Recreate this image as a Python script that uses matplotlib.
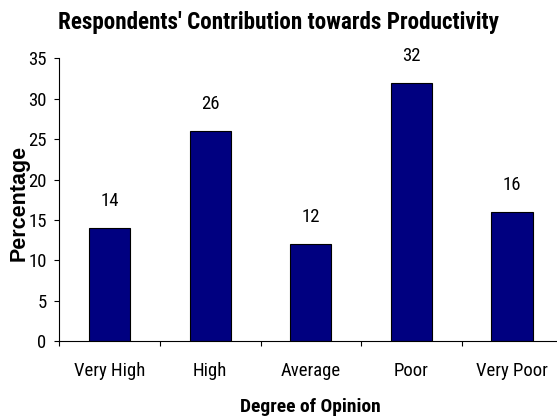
import matplotlib
matplotlib.use("Agg")
import matplotlib.pyplot as plt
import numpy as np

categories = ["Very High", "High", "Average", "Poor", "Very Poor"]
percentages = [14, 26, 12, 32, 16]
y_ticks = [0, 5, 10, 15, 20, 25, 30, 35]

narrow = ["Roboto Condensed", "PT Sans Narrow", "DejaVu Sans"]
plt.rcParams['font.family'] = narrow

fig = plt.figure(figsize=(5.57, 4.2), dpi=100)
ax = fig.add_axes([0.1065, 0.1874, 0.9031, 0.6738])

x = np.arange(len(categories))
bars = ax.bar(x, percentages, width=0.41, color="#000080",
              edgecolor="black", linewidth=0.8)

for xi, val in zip(x, percentages):
    ax.annotate(str(val), (xi, val), xytext=(0, 27), textcoords="offset pixels",
                ha="center", va="center", fontsize=13.5)

ax.set_xlim(-0.5, len(categories) - 0.5)
ax.set_ylim(0, 35)
ax.set_yticks(y_ticks)
ax.tick_params(axis="y", direction="out", length=3.6, width=0.8,
               labelsize=13.5, pad=5.5)

# ticks sit between categories, labels at centres
ax.set_xticks(np.arange(-0.5, len(categories), 1.0))
ax.set_xticklabels([])
ax.set_xticks(x, minor=True)
ax.set_xticklabels(categories, minor=True)
ax.tick_params(axis="x", which="major", direction="out", length=3.6, width=0.8)
ax.tick_params(axis="x", which="minor", length=0, labelsize=13.5, pad=15)

for side in ["top", "right"]:
    ax.spines[side].set_visible(False)
for side in ["left", "bottom"]:
    ax.spines[side].set_linewidth(0.8)

fig.text(0.5, 1 - 23 / 420, "Respondents' Contribution towards Productivity",
         ha="center", va="center", fontsize=16.7, fontweight="bold")
fig.text(310 / 557, 1 - 407 / 420, "Degree of Opinion",
         ha="center", va="center", fontsize=14, fontweight="bold")
fig.text(19 / 557, 1 - 202.5 / 420, "Percentage", rotation=90,
         ha="center", va="center", fontsize=15.5, fontweight="bold",
         family=["Liberation Sans", "DejaVu Sans"])

fig.savefig("out.png", dpi=100)
